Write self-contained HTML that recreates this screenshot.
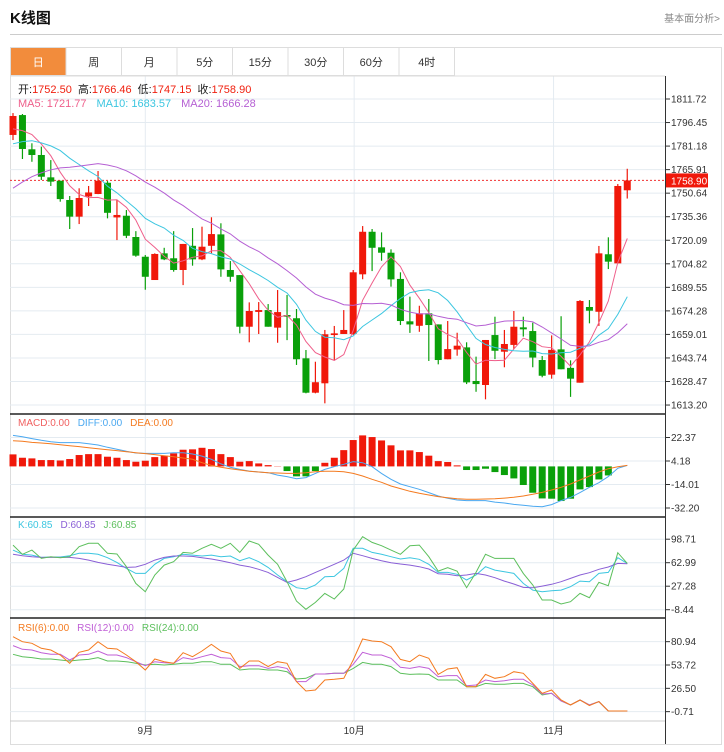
<!DOCTYPE html>
<html><head><meta charset="utf-8">
<style>
html,body{margin:0;padding:0;background:#fff;width:724px;height:752px;overflow:hidden;font-family:"Liberation Sans","Noto Sans CJK SC",sans-serif;}
svg{position:absolute;left:0;top:0;}
text{font-family:"Liberation Sans","Noto Sans CJK SC",sans-serif;}
</style></head>
<body>
<svg id="chart" width="724" height="752">
  <text x="10" y="23" font-size="15" font-weight="bold" fill="#111">K线图</text>
  <text x="720" y="22" font-size="10" fill="#888" text-anchor="end">基本面分析&gt;</text>
  <line x1="10" y1="34.5" x2="722" y2="34.5" stroke="#ccc" stroke-width="1"/>
  <rect x="10.5" y="47.5" width="711" height="697" fill="none" stroke="#ddd"/>
  <g id="tabs"></g>
  <g id="grid"></g>
  <g id="marks"></g>
  <g id="axes"></g>
  <g font-size="11">
    <text x="18" y="93"><tspan fill="#222">开:</tspan><tspan fill="#f0200f">1752.50</tspan><tspan fill="#222" dx="6">高:</tspan><tspan fill="#f0200f">1766.46</tspan><tspan fill="#222" dx="6">低:</tspan><tspan fill="#f0200f">1747.15</tspan><tspan fill="#222" dx="6">收:</tspan><tspan fill="#f0200f">1758.90</tspan></text>
    <text x="18" y="107"><tspan fill="#ef5f8b">MA5: 1721.77</tspan><tspan fill="#3cc6e0" dx="10">MA10: 1683.57</tspan><tspan fill="#b55fd3" dx="10">MA20: 1666.28</tspan></text>
  </g>
  <text x="18" y="426" font-size="10"><tspan fill="#f06060">MACD:0.00</tspan><tspan fill="#4aa8f0" dx="8">DIFF:0.00</tspan><tspan fill="#f47a1f" dx="8">DEA:0.00</tspan></text>
  <text x="18" y="528" font-size="10"><tspan fill="#3cc6e0">K:60.85</tspan><tspan fill="#8a5fd6" dx="8">D:60.85</tspan><tspan fill="#5cbf5c" dx="8">J:60.85</tspan></text>
  <text x="18" y="631" font-size="10"><tspan fill="#f47a1f">RSI(6):0.00</tspan><tspan fill="#c05fd6" dx="8">RSI(12):0.00</tspan><tspan fill="#5cbf5c" dx="8">RSI(24):0.00</tspan></text>
</svg>
<script>
const opens=[1788.4,1801.3,1779.1,1775.4,1760.9,1758.7,1746.2,1735.4,1748.5,1750.1,1757.4,1734.9,1736,1722.2,1709.4,1694.3,1711.6,1708.4,1700.8,1716.5,1707.7,1716.5,1723.9,1700.8,1697.5,1664,1673.6,1674.8,1663.4,1671.6,1669.5,1643.5,1621.2,1627.3,1658.6,1659.3,1659.3,1698,1725.6,1715.5,1712,1695,1667.5,1664.6,1672.7,1665.5,1642.9,1649.2,1650.6,1628.8,1626.2,1658.6,1647.8,1652.2,1663.6,1661.2,1642.4,1632.9,1649.3,1637.3,1627.7,1676.8,1673.7,1711,1705.1,1752.5];
const highs=[1802.6,1802,1783,1780.8,1772.1,1758.7,1748.8,1753.8,1755.3,1765,1758.5,1746.2,1739.7,1726,1710.5,1711.6,1715.2,1726,1717.7,1728,1728.9,1735,1731.1,1706.6,1697.5,1679.8,1680,1678.7,1687.8,1684.6,1675.5,1648.9,1641.3,1661.9,1664.5,1674.8,1700.8,1729.3,1727.4,1725.2,1714.2,1699.3,1683.5,1677.6,1682,1665.5,1667.7,1660.1,1653.9,1644.6,1655.4,1670.5,1661.9,1674.2,1670.5,1666.6,1645,1658.4,1670.8,1642.2,1681.3,1681.3,1716.4,1722,1756.6,1766.46];
const lows=[1785.1,1772.8,1771,1759.2,1755.3,1745.1,1727.4,1730.6,1742.3,1750,1734.3,1720.2,1721.5,1709.4,1688,1694.3,1707.2,1699.7,1691,1703.6,1707.2,1711.6,1696.4,1693.2,1659.7,1653.9,1659.3,1664,1653.6,1655.3,1639.2,1620.8,1620.8,1614.3,1642.4,1659.3,1658.6,1694.8,1700.1,1706.8,1690,1665.1,1660,1660.7,1641.8,1639.6,1642.9,1645.2,1626.8,1621.8,1616.9,1643,1637.7,1649.5,1657.6,1637.7,1631.2,1630.3,1636.4,1618.5,1627.7,1666.2,1664.5,1701.4,1705.1,1747.15];
const closes=[1800.7,1779.3,1775.4,1761.3,1758.1,1746.8,1735.4,1747.5,1751.1,1758.7,1737.9,1736.5,1723,1710.1,1696.4,1711.2,1707.7,1700.8,1717.7,1707.7,1715.9,1724.1,1701.2,1696.4,1664,1674.2,1674.8,1664,1673.5,1670.5,1642.9,1621.2,1628,1659.1,1659.7,1661.9,1699.3,1725.6,1715.2,1712,1694.7,1667.7,1665.5,1672.7,1665.1,1642.4,1649.5,1651.7,1627.9,1626.8,1655.4,1648.4,1652.8,1664,1662.3,1644,1632.2,1649,1636.4,1630.3,1680.7,1674.4,1711.6,1706.2,1755.3,1758.9];
const priorCloses=[1700,1705,1712,1718,1722,1728,1732,1735,1742,1756,1765,1770,1775,1778,1777,1785,1788,1792,1796];
const priceTicks=[1811.72,1796.45,1781.18,1765.91,1750.64,1735.36,1720.09,1704.82,1689.55,1674.28,1659.01,1643.74,1628.47,1613.20];
const macdHist=[9.3,6.7,6.2,4.9,4.9,4.6,5.7,8.8,9.5,9.5,7.5,6.7,4.9,3.6,4.4,7.2,8.3,10.1,12.9,13.2,14.4,13.4,9.5,7.2,3.6,4.1,2.3,1.0,0.2,-3.6,-7.7,-7.7,-3.6,2.8,6.7,12.6,20.4,24,22.7,20.1,16.3,12.4,12.4,11.1,8.3,4.1,3.4,0.8,-2.8,-2.8,-1.8,-4.4,-6.7,-9.3,-14.4,-20.4,-24.8,-25,-26.8,-25,-17.8,-16,-10.1,-7,0,0];
const diffVals=[24.0,23.0,21.5,20.2,19.1,18.4,18.4,18.4,17.6,16.6,14.8,13.2,11.7,10.4,10.1,10.1,10.1,10.6,10.6,9.6,8.0,5.5,1.9,-0.7,-2.3,-3.6,-4.3,-4.9,-6.7,-7.9,-9.5,-8.7,-5.4,-2.3,-0.2,1.6,3.7,2.9,-0.2,-5.4,-10,-13.6,-15.7,-17.7,-20.3,-22.9,-24.7,-26,-26.5,-26.5,-26.5,-27.6,-28.3,-29.4,-30.1,-30.9,-31.2,-29.6,-26.5,-24,-20.3,-16.2,-12.6,-7.9,-1.5,0.8];
const deaVals=[19.9,19.4,18.6,18.1,17.6,16.8,16,15.3,14.5,13.7,12.9,12.2,11.4,10.6,9.9,9.1,8.3,7.5,6.5,5.5,2.9,0.8,-0.7,-1.8,-2.8,-3.8,-4.3,-4.9,-5.1,-5.4,-5.4,-4.9,-4.1,-3.8,-3.8,-4.1,-5.4,-7.4,-10,-12.3,-15.2,-17.2,-19.3,-20.8,-22.1,-23.4,-24.2,-25,-25.5,-25.5,-25.2,-25,-24.5,-23.9,-22.9,-21.6,-20.1,-18.3,-16.2,-13.6,-10.5,-7.4,-4.3,-1.8,-0.2,0.8];
const macdTicks=[22.37,4.18,-14.01,-32.20];
const kVals=[82.2,75.7,74.6,71.1,71.6,71.6,73.6,77.2,77.2,75.7,70.6,63.5,54.4,46.8,46.8,60.5,69.6,72.1,75.7,74.6,73.1,74.6,72.1,73.1,66.0,70.6,64.5,55.9,44.3,34.1,25.0,23.0,29.1,41.7,42.2,54.4,84.8,84.8,78.7,75.7,72.1,68.6,70.6,68.1,60.5,48.3,48.3,45.3,36.7,44.3,56.9,51.8,49.3,46.8,31.6,21.4,18.9,20.4,21.4,26.5,35.1,34.1,46.8,48.3,70.6,62.0];
const dVals=[75.7,73.6,72.1,71.1,71.1,71.1,71.1,69.6,67.0,63.5,60.5,58.4,55.9,56.4,60.5,67.0,71.1,73.1,73.1,72.6,70.6,68.6,66.0,63.0,59.4,56.9,52.9,48.3,40.7,33.1,36.7,41.7,48.3,54.4,60.5,67.0,77.2,73.6,69.6,66.0,63.0,61.0,59.4,56.9,53.4,46.3,45.3,43.2,44.3,46.8,44.3,40.2,35.1,30.6,25.5,25.0,27.5,30.1,34.1,39.2,44.3,47.8,52.9,56.4,62.0,61.5];
const jVals=[89.8,75.7,82.2,69.6,72.1,70.6,72.1,87.3,92.4,92.4,77.2,76.2,56.9,31.6,18.9,44.3,59.4,64.5,78.7,77.2,84.8,90.9,84.8,92.4,78.7,95.9,90.9,74.6,60.5,34.1,4.7,-7.9,2.7,16.4,7.8,23.0,82.2,102.5,93.9,88.8,82.2,75.7,88.8,89.8,72.1,50.3,55.4,50.3,25.0,48.3,75.7,69.6,69.6,69.6,46.8,29.1,6.3,6.3,0.2,3.7,16.4,9.8,33.1,28.0,78.2,62.0];
const kdjTicks=[98.71,62.99,27.28,-8.44];
const rsi6=[86.8,80.9,79.0,73.2,71.2,65.4,55.7,68.5,71.2,80.9,73.2,72.4,65.4,57.6,47.9,60.7,57.6,55.7,68.1,63.4,70.1,77.8,70.1,67.3,49.8,58.4,58.4,51.8,57.6,55.7,34.3,23.4,24.6,36.2,37.0,38.2,59.6,84.1,81.7,80.9,75.1,60.3,57.6,65.4,61.5,42.8,49.1,50.6,28.4,28.4,42.8,38.2,40.1,45.9,44.0,32.3,20.7,24.6,12.9,7.0,12.9,6.3,11.0,0.05,0.05,0.05];
const rsi12=[76.3,72.0,71.2,68.1,66.2,66.2,59.6,65.4,66.2,70.1,65.4,65.4,62.3,57.6,52.9,57.6,56.4,55.7,62.3,60.3,63.4,66.2,62.3,61.5,51.8,52.9,52.9,49.8,51.8,49.8,34.3,34.3,43.2,43.2,44.0,44.0,54.5,68.5,65.4,65.4,61.5,51.0,49.8,51.8,49.8,40.1,41.3,41.3,29.6,30.4,36.2,34.3,35.4,37.0,37.0,30.4,19.9,20.7,11.7,7.0,12.9,7.0,11.0,0.05,0.05,0.05];
const rsi24=[66.2,63.4,62.3,60.7,60.7,59.6,58.4,59.6,60.3,62.3,58.4,58.4,57.6,55.7,53.7,54.5,53.7,54.5,55.7,55.7,57.6,57.6,54.5,54.5,47.9,49.1,49.1,47.9,47.9,45.9,37.4,38.2,43.2,43.2,44.0,44.0,49.8,56.8,54.5,54.5,51.8,44.0,42.8,43.2,42.8,36.2,36.2,36.2,28.4,28.4,32.3,31.2,31.2,32.3,32.3,28.4,18.7,20.7,11.7,7.0,12.9,7.0,11.0,0.05,0.05,0.05];
const rsiTicks=[80.94,53.72,26.50,-0.71];
const monthLabels=["9月","10月","11月"];
const monthIndex=[14,36.1,57.2];
const tabLabels=["日","周","月","5分","15分","30分","60分","4时"];
const lastPrice=1758.90;

const NS="http://www.w3.org/2000/svg";
function mk(parent,tag,attrs){const e=document.createElementNS(NS,tag);for(const k in attrs)e.setAttribute(k,attrs[k]);parent.appendChild(e);return e;}
const xOf=i=>13+i*9.45;
const yP=p=>99+(1811.72-p)*1.5416;
const yM=v=>466.4-v*1.292;
const yK=v=>562.7-(v-62.99)*0.658;
const yR=v=>665-(v-53.72)*0.857;
const L=10,R=665;
const tabs=document.getElementById('tabs'),grid=document.getElementById('grid'),marks=document.getElementById('marks'),axes=document.getElementById('axes');

// tabs
tabLabels.forEach((t,i)=>{
  const x=10.5+i*55.5;
  const r=mk(tabs,'rect',{x:x,y:47.5,width:55.5,height:28,fill:i===0?'#f28c3c':'#fff',stroke:'#ddd'});
  
  
  const tx=mk(tabs,'text',{x:x+27.75,y:66,'font-size':11,'text-anchor':'middle',fill:i===0?'#fff':'#333'});
  tx.textContent=t;
  
  
});

// grid
function hgrid(ticks,fy,name){ticks.forEach(v=>{const l=mk(grid,'line',{x1:L,x2:R,y1:fy(v),y2:fy(v),stroke:'#e4ebf1','stroke-width':1});});}
hgrid(priceTicks,yP,'price');hgrid(macdTicks,yM,'macd');hgrid(kdjTicks,yK,'kdj');hgrid(rsiTicks,yR,'rsi');
monthIndex.forEach((mi,k)=>{
  const x=xOf(mi);
  const l=mk(grid,'line',{x1:x,x2:x,y1:76,y2:721,stroke:'#e4ebf1'});
  
  
  const t=mk(axes,'text',{x:x,y:734,'font-size':10,'text-anchor':'middle',fill:'#333'});
  t.textContent=monthLabels[k];
  
  
});

// last price line
const lp=mk(grid,'line',{x1:L,x2:R,y1:yP(lastPrice),y2:yP(lastPrice),stroke:'#f03030','stroke-dasharray':'2,2'});



// candles
const RED='#f0180a',GREEN='#0aa00a';
closes.forEach((c,i)=>{
  const o=opens[i],up=c>=o,col=up?RED:GREEN,x=xOf(i);
  const w=mk(marks,'line',{x1:x,x2:x,y1:yP(highs[i]),y2:yP(lows[i]),stroke:col,'stroke-width':1.2});
  
  
  const top=yP(Math.max(o,c)),bot=yP(Math.min(o,c));
  const b=mk(marks,'rect',{x:x-3.5,y:top,width:7,height:Math.max(1.5,bot-top),fill:col});
  
  
});

// moving averages
function ma(n){const all=priorCloses.concat(closes),off=priorCloses.length;return closes.map((_,i)=>{let s=0;for(let k=0;k<n;k++)s+=all[off+i-k];return s/n;});}
function poly(vals,fy,color,name,w){
  const pts=vals.map((v,i)=>xOf(i).toFixed(1)+','+fy(v).toFixed(1)).join(' ');
  const p=mk(marks,'polyline',{points:pts,fill:'none',stroke:color,'stroke-width':w||1});
  
  
}
poly(ma(5),yP,'#ef5f8b','ma5-line');
poly(ma(10),yP,'#3cc6e0','ma10-line');
poly(ma(20),yP,'#b55fd3','ma20-line');

// MACD
macdHist.forEach((v,i)=>{
  const y0=yM(0),y1=yM(v);
  const r=mk(marks,'rect',{x:xOf(i)-3.5,y:Math.min(y0,y1),width:7,height:Math.abs(y1-y0),fill:v>=0?RED:GREEN});
  
  
});
poly(diffVals,yM,'#4aa8f0','diff-line');
poly(deaVals,yM,'#f47a1f','dea-line');
// KDJ
poly(kVals,yK,'#3cc6e0','k-line');
poly(dVals,yK,'#8a5fd6','d-line');
poly(jVals,yK,'#5cbf5c','j-line');
// RSI
poly(rsi24,yR,'#5cbf5c','rsi24-line');
poly(rsi12,yR,'#c05fd6','rsi12-line');
poly(rsi6,yR,'#f47a1f','rsi6-line');

// axes
function sep(y,name,col,w){const l=mk(axes,'line',{x1:L,x2:R,y1:y,y2:y,stroke:col,'stroke-width':w});}
sep(76,'main-top','#ddd',1);
sep(414,'macd-separator','#222',1.5);
sep(517,'kdj-separator','#222',1.5);
sep(618,'rsi-separator','#222',1.5);
sep(721,'x-axis-line','#ccc',1);
const ax=mk(axes,'line',{x1:665.5,x2:665.5,y1:76,y2:744,stroke:'#333'});


function ticks(vals,fy,name){vals.forEach(v=>{
  const y=fy(v);
  const tm=mk(axes,'line',{x1:666,x2:670,y1:y,y2:y,stroke:'#333'});
  
  
  const t=mk(axes,'text',{x:671,y:y+3.5,'font-size':10,fill:'#333'});
  t.textContent=v.toFixed(2);
  
  
});}
ticks(priceTicks,yP,'price');ticks(macdTicks,yM,'macd');ticks(kdjTicks,yK,'kdj');ticks(rsiTicks,yR,'rsi');
const yl=yP(lastPrice);
const lb=mk(axes,'rect',{x:666,y:yl-7,width:42,height:14,fill:'#f0180a'});


const lt=mk(axes,'text',{x:671,y:yl+4,'font-size':10,fill:'#fff'});
lt.textContent=lastPrice.toFixed(2);


</script>
</body></html>
